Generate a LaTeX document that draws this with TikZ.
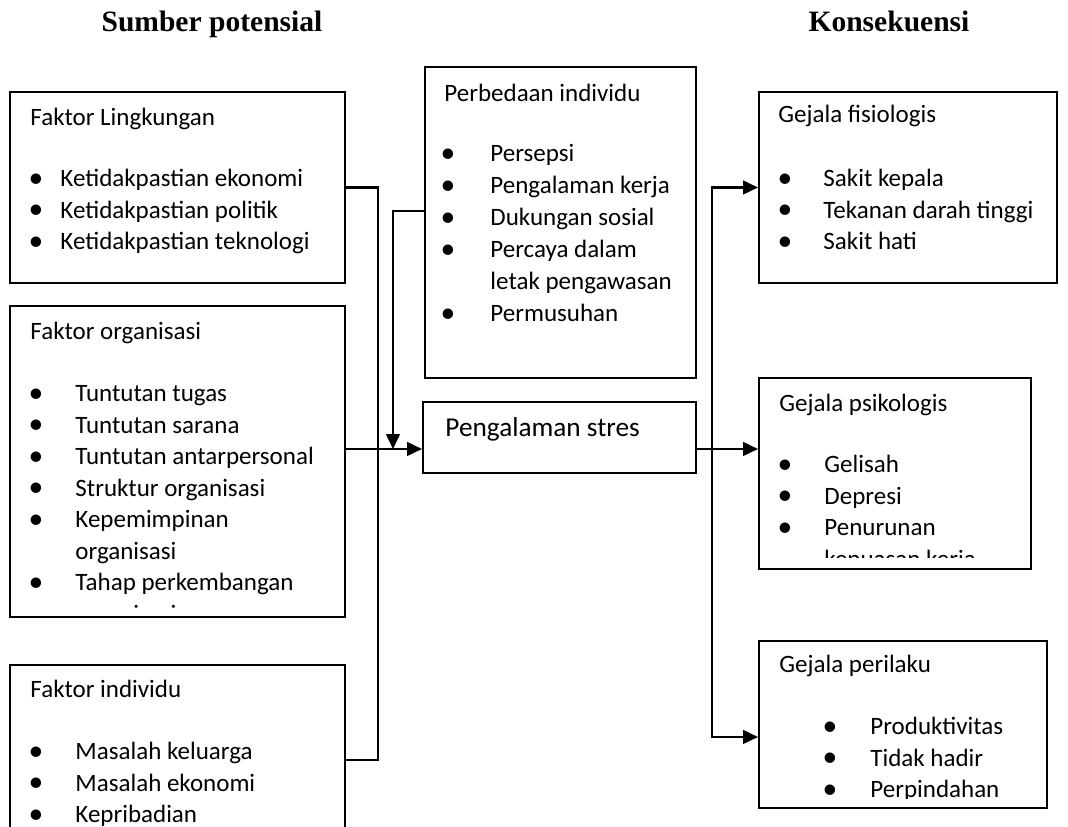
\documentclass[tikz,border=0pt]{standalone}
\usepackage{fontspec}
\setmainfont{Carlito}
\newfontfamily\titlefont{Liberation Serif}
\usetikzlibrary{arrows.meta,fit}

\tikzset{
  box/.style={draw, line width=0.9pt, inner sep=0pt},
  txt/.style={anchor=base west, inner sep=0pt, font=\fontsize{11}{13}\selectfont},
  dot/.style={anchor=base, inner sep=0pt, font=\fontsize{13}{13}\selectfont},
  head/.style={anchor=base, inner sep=0pt, font=\titlefont\bfseries\fontsize{13}{15}\selectfont},
  wire/.style={line width=0.9pt},
  arr/.style={line width=0.9pt, -{Triangle[length=6.5pt,width=6pt]}}
}

\begin{document}
\begin{tikzpicture}[x=0.44pt, y=-0.44pt]
    \useasboundingbox (0,0) rectangle (1068,827);
    \clip (0,0) rectangle (1068,827);

    % titles
    \node[head] (sumber) at (212,32) {Sumber potensial};
    \node[head] (konsek) at (889,32) {Konsekuensi};

    % boxes
    \node[box, fit={(10,92) (345,283)}] (lingk) {};
    \node[box, fit={(10,306) (345,617)}] (org) {};
    \node[box, fit={(10,665) (345,855)}] (indiv) {};
    \node[box, fit={(425,67) (696,378)}] (beda) {};
    \node[box, fit={(423,402) (696,473)}] (stres) {};
    \node[box, fit={(759,92) (1057,283)}] (fisio) {};
    \node[box, fit={(759,378) (1031,569)}] (psiko) {};
    \node[box, fit={(759,641) (1047,808)}] (laku) {};

    % Faktor Lingkungan
    \node[txt] (lingkH) at (30,126) {Faktor Lingkungan};
    \foreach \t [count=\i] in {Ketidakpastian ekonomi, Ketidakpastian politik, Ketidakpastian teknologi} {
        \node[dot] (lingkB\i) at (36,{156+31.5*\i}) {\textbullet};
        \node[txt] (lingkT\i) at (60,{155.5+31.5*\i}) {\t};
    }

    % Faktor organisasi
    \begin{scope}
        \clip (10,306) rectangle (345,608);
        \node[txt] (orgH) at (30,340) {Faktor organisasi};
        \foreach \b/\t [count=\i] in {1/Tuntutan tugas, 1/Tuntutan sarana, 1/Tuntutan antarpersonal,
            1/Struktur organisasi, 1/Kepemimpinan, 0/organisasi, 1/Tahap perkembangan, 0/organisasi} {
            \ifnum\b=1 \node[dot] (orgB\i) at (36,{371+31.5*\i}) {\textbullet}; \fi
            \node[txt] (orgT\i) at (75,{370.5+31.5*\i}) {\t};
        }
    \end{scope}

    % Faktor individu
    \node[txt] (indivH) at (30,698) {Faktor individu};
    \foreach \t [count=\i] in {Masalah keluarga, Masalah ekonomi, Kepribadian} {
        \node[dot] (indivB\i) at (36,{729+31.5*\i}) {\textbullet};
        \node[txt] (indivT\i) at (75,{728.5+31.5*\i}) {\t};
    }

    % Perbedaan individu
    \node[txt] (bedaH) at (444,102) {Perbedaan individu};
    \foreach \b/\t [count=\i] in {1/Persepsi, 1/Pengalaman kerja, 1/Dukungan sosial,
        1/Percaya dalam, 0/letak pengawasan, 1/Permusuhan} {
        \ifnum\b=1 \node[dot] (bedaB\i) at (448,{130.5+32*\i}) {\textbullet}; \fi
        \node[txt] (bedaT\i) at (490,{130+32*\i}) {\t};
    }

    % Pengalaman stres
    \node[txt, font=\fontsize{12}{14}\selectfont] (stresT) at (445,437) {Pengalaman stres};

    % Gejala fisiologis
    \node[txt] (fisioH) at (778,123) {Gejala fisiologis};
    \foreach \t [count=\i] in {Sakit kepala, Tekanan darah tinggi, Sakit hati} {
        \node[dot] (fisioB\i) at (785,{156+31.5*\i}) {\textbullet};
        \node[txt] (fisioT\i) at (823,{155.5+31.5*\i}) {\t};
    }

    % Gejala psikologis
    \begin{scope}
        \clip (759,378) rectangle (1031,558);
        \node[txt] (psikoH) at (779,412) {Gejala psikologis};
        \foreach \b/\t [count=\i] in {1/Gelisah, 1/Depresi, 1/Penurunan, 0/kepuasan kerja} {
            \ifnum\b=1 \node[dot] (psikoB\i) at (785,{442+31.5*\i}) {\textbullet}; \fi
            \node[txt] (psikoT\i) at (824,{441.5+31.5*\i}) {\t};
        }
    \end{scope}

    % Gejala perilaku
    \begin{scope}
        \clip (759,641) rectangle (1047,799);
        \node[txt] (lakuH) at (779,673) {Gejala perilaku};
        \foreach \t [count=\i] in {Produktivitas, Tidak hadir, Perpindahan} {
            \node[dot] (lakuB\i) at (830,{704+31.5*\i}) {\textbullet};
            \node[txt] (lakuT\i) at (870,{703.5+31.5*\i}) {\t};
        }
    \end{scope}

    % connectors
    \coordinate (hub) at (378,449);
    \coordinate (mod) at (393,211);
    \coordinate (spl) at (712,449);
    \coordinate (low) at (712,737);

    \draw[wire] (lingk.east) -| (hub) |- (indiv.east);
    \draw[arr] (org.east |- hub) -- (stres.west |- hub);
    \draw[arr] (beda.west |- mod) -- (mod) -- (mod |- hub);

    \draw[arr] (stres.east |- spl) -- (psiko.west |- spl);
    \draw[arr] (spl) |- (fisio.west);
    \draw[arr] (spl) -- (low) -- (laku.west |- low);
\end{tikzpicture}
\end{document}
